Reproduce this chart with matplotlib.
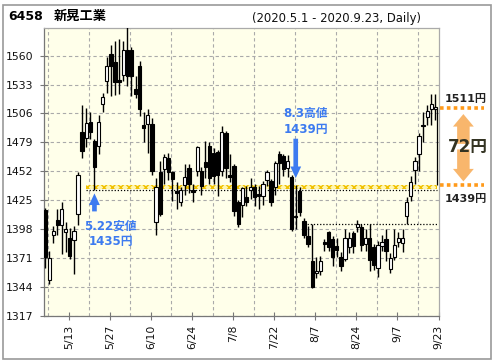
import matplotlib
matplotlib.use('Agg')
import matplotlib.pyplot as plt
from matplotlib.patches import Rectangle

# daily OHLC, 2020-05-01 .. 2020-09-23
opens = [1416, 1351, 1393, 1407, 1402, 1395, 1390, 1388, 1412, 1489,
         1483, 1498, 1480, 1476, 1515, 1536, 1561, 1554, 1537, 1542,
         1565, 1565, 1529, 1550, 1495, 1496, 1496, 1405, 1451, 1454,
         1464, 1451, 1434, 1423, 1439, 1455, 1434, 1452, 1452, 1461,
         1476, 1469, 1470, 1452, 1488, 1449, 1457, 1423, 1421, 1428,
         1435, 1437, 1431, 1429, 1444, 1443, 1437, 1468, 1466, 1455,
         1447, 1410, 1434, 1406, 1392, 1368, 1357, 1359, 1386, 1395,
         1389, 1382, 1372, 1370, 1381, 1394, 1400, 1400, 1384, 1390,
         1381, 1362, 1382, 1389, 1361, 1372, 1386, 1385, 1410, 1429,
         1453, 1468, 1495, 1503, 1510, 1510]
highs = [1418, 1378, 1401, 1417, 1423, 1405, 1399, 1401, 1451, 1514,
         1511, 1507, 1482, 1505, 1525, 1559, 1570, 1574, 1575, 1574,
         1592, 1568, 1541, 1555, 1507, 1510, 1502, 1446, 1462, 1468,
         1469, 1452, 1442, 1437, 1459, 1459, 1440, 1476, 1456, 1480,
         1479, 1474, 1472, 1494, 1490, 1468, 1459, 1425, 1437, 1438,
         1446, 1440, 1438, 1443, 1453, 1445, 1462, 1471, 1468, 1467,
         1449, 1439, 1437, 1408, 1401, 1403, 1372, 1373, 1389, 1396,
         1392, 1390, 1377, 1398, 1395, 1396, 1407, 1403, 1398, 1403,
         1384, 1387, 1393, 1398, 1376, 1398, 1395, 1398, 1428, 1448,
         1465, 1488, 1507, 1514, 1524, 1524]
lows = [1362, 1347, 1385, 1393, 1375, 1377, 1370, 1356, 1402, 1464,
        1475, 1482, 1435, 1468, 1507, 1525, 1522, 1523, 1524, 1536,
        1532, 1522, 1520, 1504, 1479, 1469, 1449, 1393, 1410, 1440,
        1444, 1424, 1417, 1420, 1430, 1432, 1423, 1448, 1430, 1446,
        1440, 1440, 1429, 1448, 1446, 1442, 1410, 1400, 1409, 1420,
        1426, 1420, 1417, 1421, 1438, 1420, 1430, 1440, 1448, 1447,
        1396, 1398, 1410, 1390, 1381, 1343, 1352, 1355, 1378, 1378,
        1364, 1372, 1359, 1368, 1376, 1376, 1395, 1378, 1378, 1359,
        1360, 1353, 1378, 1368, 1357, 1369, 1381, 1377, 1403, 1424,
        1440, 1452, 1479, 1495, 1495, 1500]
closes = [1372, 1371, 1396, 1402, 1417, 1398, 1373, 1396, 1449, 1471,
          1497, 1489, 1456, 1498, 1521, 1550, 1550, 1535, 1535, 1565,
          1541, 1541, 1524, 1510, 1492, 1505, 1452, 1437, 1412, 1465,
          1451, 1445, 1432, 1435, 1447, 1440, 1433, 1475, 1438, 1456,
          1446, 1448, 1449, 1489, 1455, 1447, 1415, 1403, 1436, 1423,
          1437, 1428, 1429, 1440, 1451, 1423, 1460, 1460, 1454, 1462,
          1398, 1409, 1414, 1393, 1384, 1344, 1359, 1368, 1384, 1381,
          1372, 1379, 1364, 1390, 1390, 1382, 1403, 1383, 1390, 1369,
          1365, 1383, 1386, 1378, 1371, 1383, 1390, 1390, 1423, 1442,
          1462, 1485, 1494, 1508, 1515, 1512]

tick_pos = [5, 15, 25, 35, 45, 55, 65, 75, 85, 95]
tick_labels = ['5/13', '5/27', '6/10', '6/24', '7/8', '7/22', '8/7', '8/24', '9/7', '9/23']
y_ticks = [1317, 1344, 1371, 1398, 1425, 1452, 1479, 1506, 1533, 1560]

low_0522 = 1435    # 5.22 low
high_0803 = 1439   # 8.3 high
last_close = 1511
support = 1403

W, H = 496, 364
BLUE = '#3d7bf0'
ORANGE = '#ff9a1a'
JP = ['DejaVu Sans', 'Noto Sans CJK JP']


def fx(x):
    return x / W


def fy(y):
    return 1 - y / H


fig = plt.figure(figsize=(W / 100, H / 100), dpi=100)
ax = fig.add_axes([fx(43.5), fy(316), fx(438.5 - 43.5), (316 - 27.7) / H])
ax.set_facecolor('#ffffea')

idx = list(range(len(opens)))
face = ['white' if c >= o else 'black' for o, c in zip(opens, closes)]
bottoms = [min(o, c) for o, c in zip(opens, closes)]
heights = [max(abs(c - o), 1.2) for o, c in zip(opens, closes)]

ax.vlines(idx, lows, highs, color='black', lw=1, zorder=3)
ax.bar(idx, heights, bottom=bottoms, width=0.8, color=face,
       edgecolor='black', lw=0.8, zorder=4)

# guide lines
ax.fill_between([10, 95.5], low_0522 + 0.5, high_0803, facecolor='#fff6b0',
                edgecolor='#f0c000', hatch='xxxx', lw=0, zorder=2)
ax.hlines(low_0522, 10, 95.5, colors='black', linestyles=(0, (1, 1.5)), lw=0.9, zorder=2)
ax.hlines(support, 63, 95.5, colors='black', linestyles=(0, (1, 1.5)), lw=0.9, zorder=2)
ax.vlines(95.5, high_0803, last_close, colors='black', lw=0.9, zorder=5)

ax.set_xlim(-0.4, 95.75)
ax.set_ylim(1317, 1586)
ax.set_xticks([p + 0.75 for p in tick_pos])
ax.set_xticklabels(tick_labels, rotation=90)
ax.set_xticks([p + 0.75 for p in range(0, 96, 5)], minor=True)
ax.set_yticks(y_ticks)
ax.grid(True, which='minor', axis='x', color='#aaaaaa', ls=(0, (3, 2.5)), lw=0.8)
ax.grid(True, which='major', axis='y', color='#aaaaaa', ls=(0, (3, 2.5)), lw=0.8)
ax.tick_params(which='minor', length=0)
ax.tick_params(which='major', direction='inout', length=6, color='#777777',
               labelsize=7.8, labelcolor='#111111')
ax.tick_params(axis='x', pad=3.5)
ax.tick_params(axis='y', pad=4)
for s in ax.spines.values():
    s.set_color('#aaaaaa')
    s.set_linewidth(0.9)
ax.spines['left'].set_color('#777777')
ax.spines['bottom'].set_color('#777777')

# annotations inside the plot
fig.text(fx(306), fy(113), '8.3高値', color=BLUE, fontsize=8.5, weight='bold',
         family=JP, ha='center', va='center')
fig.text(fx(306), fy(129), f'{high_0803}円', color=BLUE, fontsize=8.5, weight='bold',
         family=JP, ha='center', va='center')
ax.annotate('', xy=(61, high_0803 + 4), xytext=(61, 1485),
            arrowprops=dict(arrowstyle='simple,head_length=0.7,head_width=0.65,tail_width=0.28',
                            mutation_scale=12, color=BLUE, lw=0), zorder=6)

fig.text(fx(110), fy(226), '5.22安値', color=BLUE, fontsize=8.5, weight='bold',
         family=JP, ha='center', va='center')
fig.text(fx(111), fy(241), f'{low_0522}円', color=BLUE, fontsize=8.5, weight='bold',
         family=JP, ha='center', va='center')
ax.annotate('', xy=(12, low_0522 - 1), xytext=(12, 1412),
            arrowprops=dict(arrowstyle='simple,head_length=0.7,head_width=0.65,tail_width=0.28',
                            mutation_scale=12, color=BLUE, lw=0), zorder=6)

# right-hand panel
yt = ax.get_yaxis_transform()
for lvl in (last_close, high_0803):
    ax.plot([1.005, 1.115], [lvl, lvl], transform=yt, clip_on=False,
            color=ORANGE, lw=2.6, ls=(0, (1, 0.9)), solid_capstyle='butt')
mid = (last_close + high_0803) / 2
for end in (last_close - 3, high_0803 + 1):
    ax.annotate('', xy=(1.063, end), xytext=(1.063, mid), xycoords=yt, textcoords=yt,
                annotation_clip=False,
                arrowprops=dict(arrowstyle='simple,head_length=0.6,head_width=1.0,tail_width=0.6',
                                mutation_scale=15, color='#f8b66c', lw=0))
fig.text(fx(466), fy(99), f'{last_close}円', fontsize=8, weight='bold', family=JP,
         color='#222222', ha='center', va='center')
fig.text(fx(466), fy(199), f'{high_0803}円', fontsize=8, weight='bold', family=JP,
         color='#222222', ha='center', va='center')
fig.text(fx(468), fy(147), f'{last_close - high_0803}円', fontsize=12, weight='bold',
         family=JP, color='#333322', ha='center', va='center')

# header
fig.text(fx(8), fy(16.5), '6458', fontsize=9, weight='bold', ha='left', va='center')
fig.text(fx(54), fy(16.5), '新晃工業', fontsize=9.5, weight='bold', family=JP,
         ha='left', va='center')
fig.text(fx(337), fy(18.5), '(2020.5.1 - 2020.9.23, Daily)', fontsize=8.4,
         ha='center', va='center', color='#111111')

fig.patches.append(Rectangle((fx(3), fy(359)), fx(488), (359 - 5) / H,
                             transform=fig.transFigure, fill=False,
                             edgecolor='#999999', lw=1.2))

fig.savefig('out.png', dpi=100)
